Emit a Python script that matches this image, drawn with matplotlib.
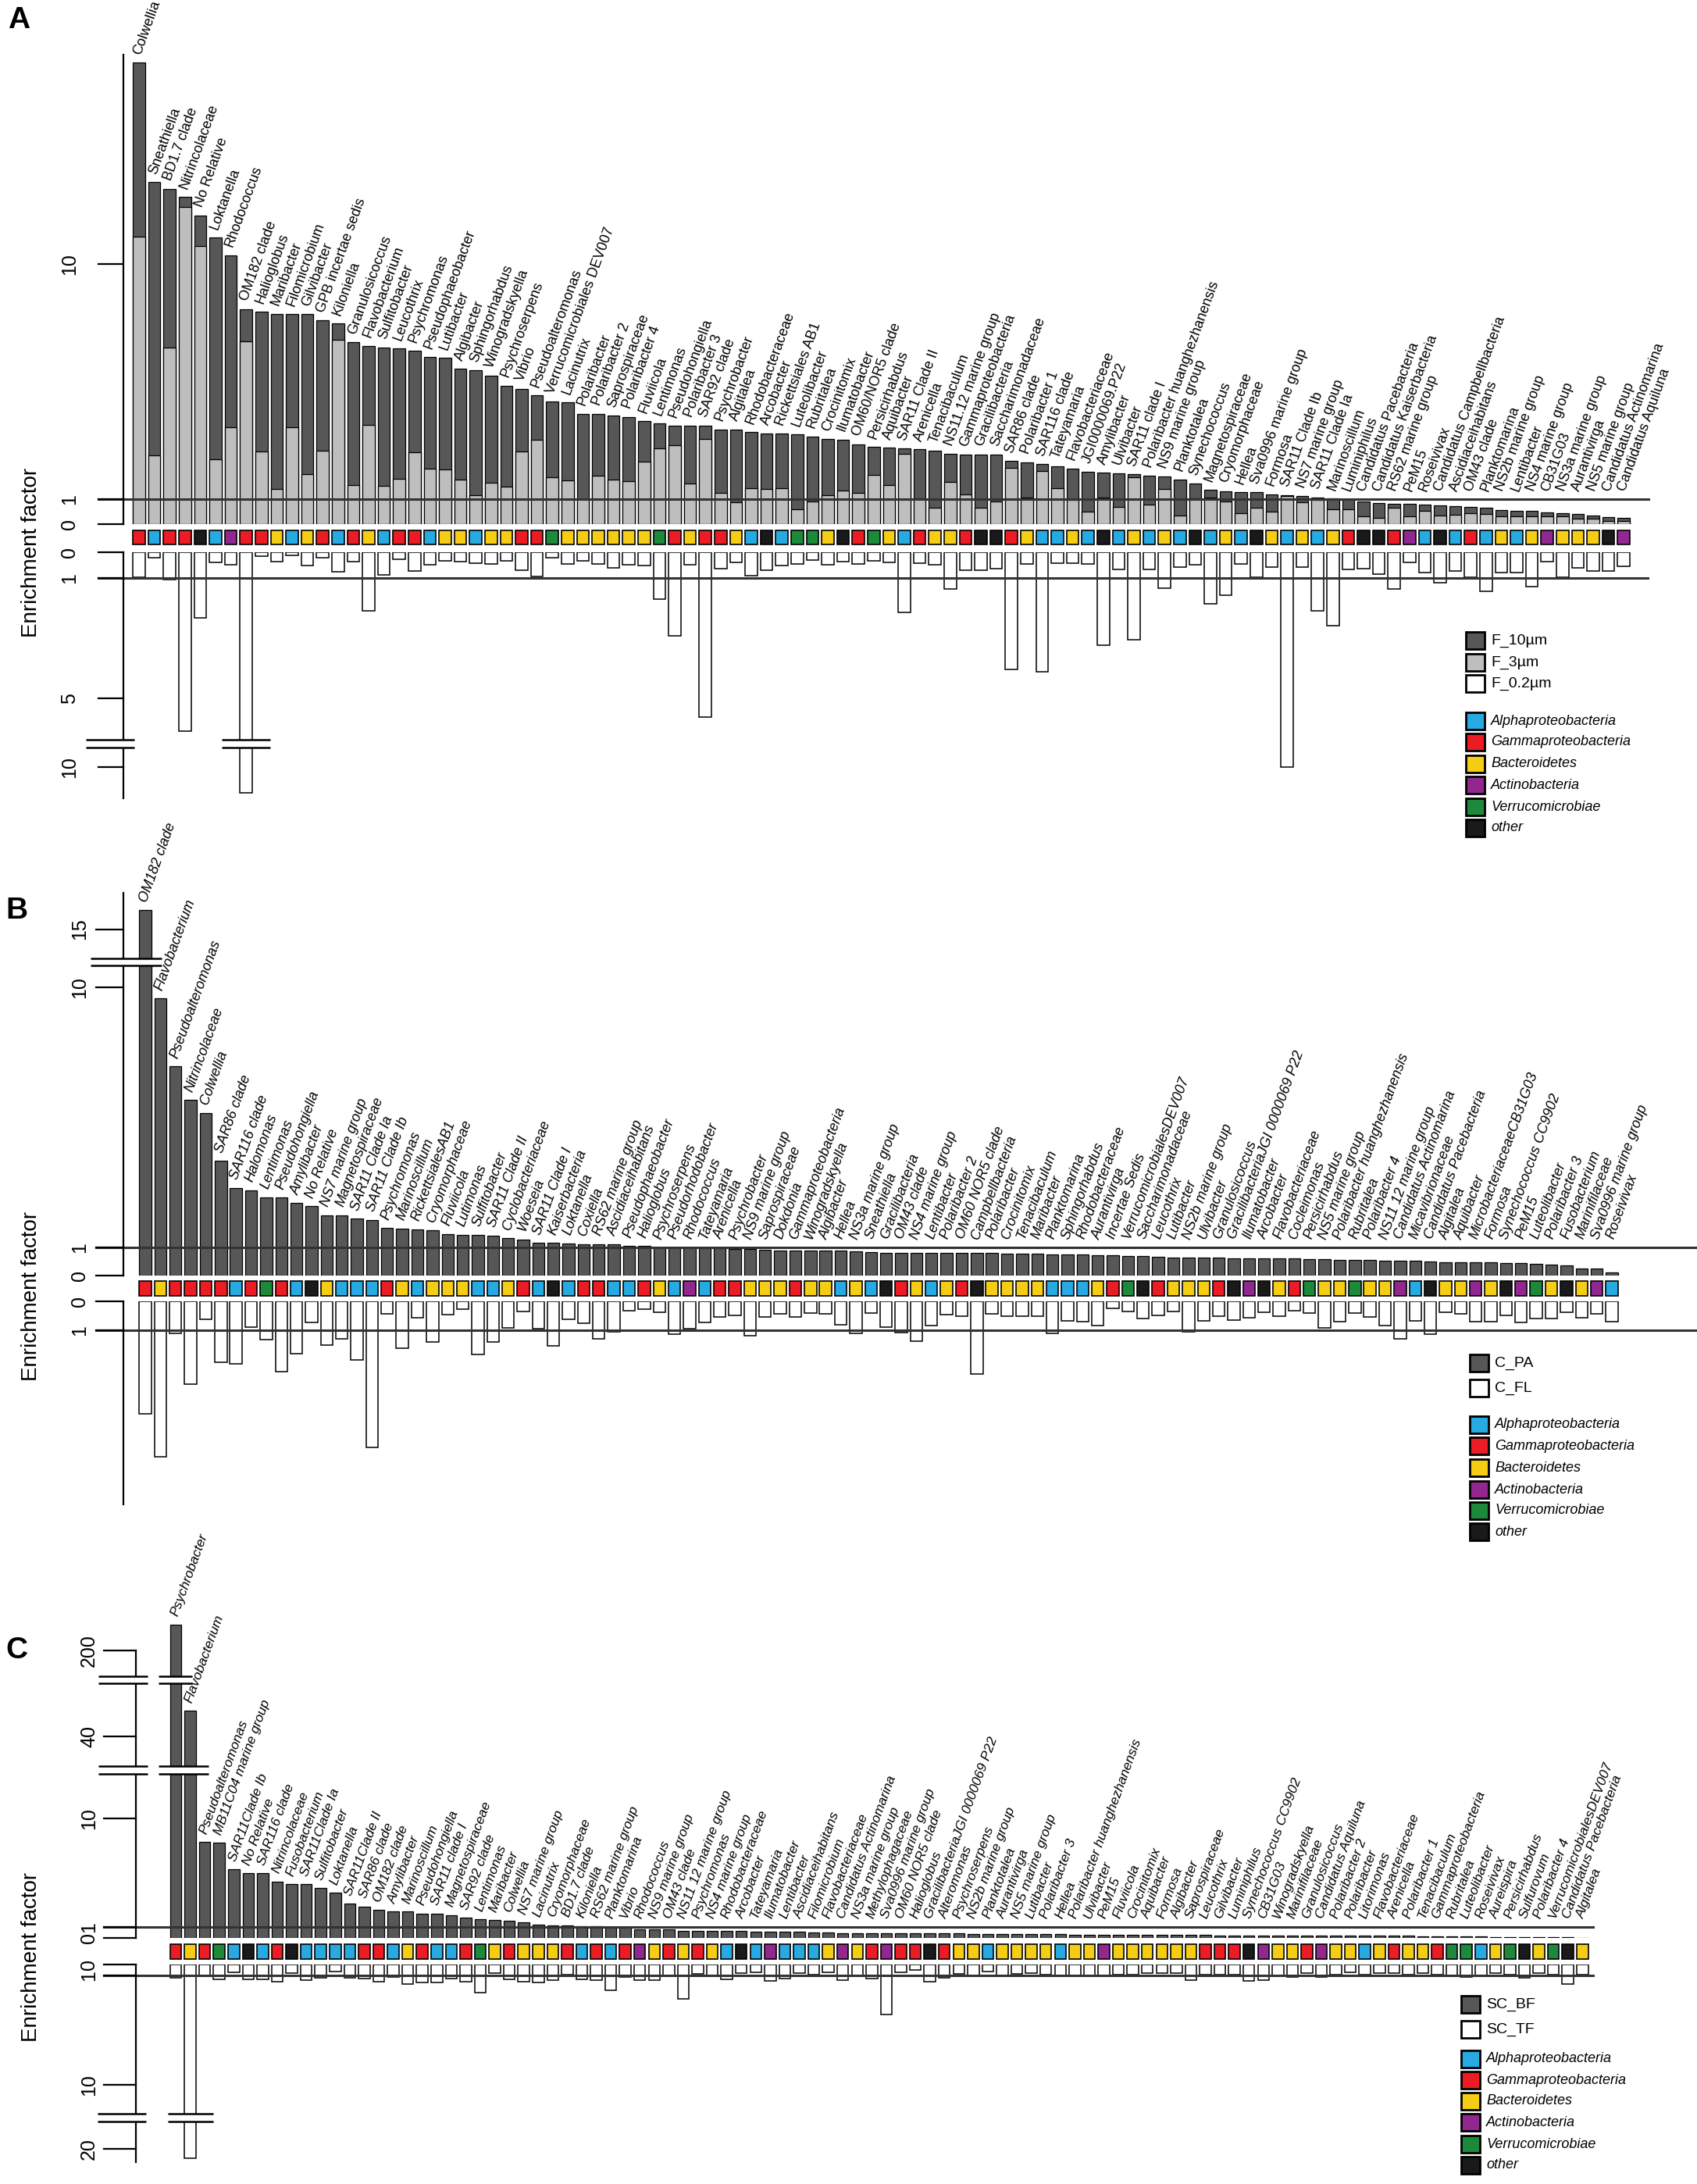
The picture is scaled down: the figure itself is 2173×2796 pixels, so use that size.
import numpy as np
import matplotlib
matplotlib.use("Agg")
import matplotlib.pyplot as plt
from matplotlib.patches import Rectangle

# ---------------------------------------------------------------- DATA
names_A = ["Colwellia", "Sneathiella", "BD1.7 clade", "Nitrincolaceae", "No Relative", "Loktanella", "Rhodococcus", "OM182 clade", "Halioglobus", "Maribacter",
           "Filomicrobium", "Gilvibacter", "GPB incertae sedis", "Kiloniella", "Granulosicoccus", "Flavobacterium", "Sulfitobacter", "Leucothrix", "Psychromonas", "Pseudophaeobacter",
           "Lutibacter", "Algibacter", "Sphingorhabdus", "Winogradskyella", "Psychroserpens", "Vibrio", "Pseudoalteromonas", "Verrucomicrobiales DEV007", "Lacinutrix", "Polaribacter",
           "Polaribacter 2", "Saprospiraceae", "Polaribacter 4", "Fluviicola", "Lentimonas", "Pseudohongiella", "Polaribacter 3", "SAR92 clade", "Psychrobacter", "Algitalea",
           "Rhodobacteraceae", "Arcobacter", "Rickettsiales AB1", "Luteolibacter", "Rubritalea", "Crocinitomix", "Ilumatobacter", "OM60/NOR5 clade", "Persicirhabdus", "Aquibacter",
           "SAR11 Clade II", "Arenicella", "Tenacibaculum", "NS11.12 marine group", "Gammaproteobacteria", "Gracilibacteria", "Saccharimonadaceae", "SAR86 clade", "Polaribacter 1", "SAR116 clade",
           "Tateyamaria", "Flavobacteriaceae", "JGI0000069.P22", "Amylibacter", "Ulvibacter", "SAR11 clade I", "Polaribacter huanghezhanensis", "NS9 marine group", "Planktotalea", "Synechococcus",
           "Magnetospiraceae", "Cryomorphaceae", "Hellea", "Sva0996 marine group", "Formosa", "SAR11 Clade Ib", "NS7 marine group", "SAR11 Clade Ia", "Marinoscillum", "Luminiphilus",
           "Candidatus Pacebacteria", "Candidatus Kaiserbacteria", "RS62 marine group", "PeM15", "Roseivivax", "Candidatus Campbellbacteria", "Ascidiaceihabitans", "OM43 clade", "Planktomarina", "NS2b marine group",
           "Lentibacter", "NS4 marine group", "CB31G03", "NS3a marine group", "Aurantivirga", "NS5 marine group", "Candidatus Actinomarina", "Candidatus Aquiluna"]
codes_A = list("gaggoacggb" "abgagbagga" "bbabbggvbb" "bbbbvgbggb" "aoavvbogvb"
               "agbbgoogba" "abaoababao" "abaobababg" "oogcaoagab" "abcbbboc")
F_10um = [17.69, 13.12, 12.87, 12.55, 11.85, 11.01, 10.33, 8.27, 8.16, 8.09,
          8.08, 8.07, 7.84, 7.72, 7.01, 6.87, 6.81, 6.76, 6.68, 6.45,
          6.40, 5.99, 5.92, 5.72, 5.35, 5.21, 4.97, 4.73, 4.71, 4.27,
          4.27, 4.19, 4.15, 3.98, 3.90, 3.82, 3.82, 3.82, 3.68, 3.68,
          3.57, 3.52, 3.51, 3.48, 3.40, 3.30, 3.28, 3.11, 3.00, 2.98,
          2.94, 2.92, 2.86, 2.74, 2.72, 2.72, 2.72, 2.47, 2.42, 2.35,
          2.25, 2.18, 2.06, 2.03, 2.00, 1.96, 1.90, 1.88, 1.76, 1.61,
          1.36, 1.32, 1.27, 1.27, 1.20, 1.17, 1.13, 1.08, 1.03, 1.00,
          0.91, 0.86, 0.83, 0.81, 0.78, 0.76, 0.71, 0.68, 0.66, 0.56,
          0.55, 0.55, 0.46, 0.45, 0.40, 0.36, 0.28, 0.26]
F_3um = [11.05, 2.68, 6.81, 12.17, 10.68, 2.52, 3.75, 7.05, 2.83, 1.39,
         3.77, 1.96, 2.85, 7.09, 1.56, 3.83, 1.53, 1.79, 2.79, 2.16,
         2.15, 1.75, 1.16, 1.64, 1.49, 2.83, 3.27, 1.85, 1.72, 1.00,
         1.91, 1.77, 1.69, 2.44, 2.94, 3.08, 1.61, 3.30, 1.26, 0.87,
         1.42, 1.39, 1.44, 0.60, 0.92, 1.15, 1.34, 1.25, 1.93, 1.54,
         2.74, 1.05, 0.67, 1.66, 1.18, 0.65, 0.93, 2.20, 1.08, 2.08,
         1.42, 0.98, 0.50, 1.07, 0.70, 1.83, 0.80, 1.39, 0.35, 1.03,
         1.08, 0.91, 0.43, 0.65, 0.51, 1.13, 0.88, 0.98, 0.60, 0.60,
         0.30, 0.26, 0.65, 0.33, 0.53, 0.36, 0.38, 0.43, 0.40, 0.33,
         0.33, 0.33, 0.31, 0.31, 0.23, 0.23, 0.13, 0.13]
F_02um = [0.97, 0.22, 1.04, 6.08, 2.32, 0.40, 0.48, 10.86, 0.15, 0.35,
          0.12, 0.50, 0.20, 0.75, 0.35, 2.10, 0.87, 0.27, 0.73, 0.47,
          0.32, 0.35, 0.42, 0.45, 0.33, 0.70, 0.93, 0.20, 0.46, 0.32,
          0.45, 0.60, 0.48, 0.52, 1.71, 2.92, 0.48, 5.62, 0.64, 0.38,
          0.92, 0.70, 0.50, 0.45, 0.30, 0.48, 0.37, 0.45, 0.32, 0.38,
          2.14, 0.43, 0.47, 1.37, 0.70, 0.70, 0.65, 4.05, 0.45, 4.13,
          0.42, 0.43, 0.45, 3.23, 0.67, 3.06, 0.68, 1.33, 0.58, 0.48,
          1.86, 1.58, 0.45, 0.97, 0.58, 10.0, 0.58, 2.10, 2.58, 0.68,
          0.65, 0.85, 1.37, 0.40, 0.80, 1.16, 0.72, 0.96, 1.43, 0.78,
          0.80, 1.28, 0.35, 0.97, 0.62, 0.73, 0.73, 0.55]

names_B = ["OM182 clade", "Flavobacterium", "Pseudoalteromonas", "Nitrincolaceae", "Colwellia", "SAR86 clade", "SAR116 clade", "Halomonas", "Lentimonas", "Pseudohongiella",
           "Amylibacter", "No Relative", "NS7 marine group", "Magnetospiraceae", "SAR11 Clade Ia", "SAR11 Clade Ib", "Psychromonas", "Marinoscillum", "RickettsialesAB1", "Cryomorphaceae",
           "Fluviicola", "Lutimonas", "Sulfitobacter", "SAR11 Clade II", "Cyclobacteriaceae", "Woeseia", "SAR11 Clade I", "Kaiserbacteria", "Loktanella", "Coxiella",
           "RS62 marine group", "Ascidiaceihabitans", "Pseudophaeobacter", "Halioglobus", "Psychroserpens", "Pseudorhodobacter", "Rhodococcus", "Tateyamaria", "Arenicella", "Psychrobacter",
           "NS9 marine group", "Saprospiraceae", "Dokdonia", "Gammaproteobacteria", "Winogradskyella", "Algibacter", "Hellea", "NS3a marine group", "Sneathiella", "Gracilibacteria",
           "OM43 clade", "NS4 marine group", "Lentibacter", "Polaribacter 2", "OM60 NOR5 clade", "Campbellbacteria", "Polaribacter", "Crocinitomix", "Tenacibaculum", "Maribacter",
           "Planktomarina", "Sphingorhabdus", "Rhodobacteraceae", "Aurantivirga", "Incertae Sedis", "VerrucomicrobialesDEV007", "Saccharimonadaceae", "Leucothrix", "Lutibacter", "NS2b marine group",
           "Ulvibacter", "Granulosicoccus", "GracilibacteriaJGI 0000069 P22", "Ilumatobacter", "Arcobacter", "Flavobacteriaceae", "Cocleimonas", "Persicirhabdus", "NS5 marine group", "Polaribacter huanghezhanensis",
           "Rubritalea", "Polaribacter 4", "NS11 12 marine group", "Candidatus Actinomarina", "Micavibrionaceae", "Candidatus Pacebacteria", "Algitalea", "Aquibacter", "MicrobacteriaceaeCB31G03", "Formosa",
           "Synechococcus CC9902", "PeM15", "Luteolibacter", "Polaribacter 3", "Fusobacterium", "Marinifilaceae", "Sva0996 marine group", "Roseivivax"]
codes_B = list("gbggggagvg" "aobaaagbab" "bbaabgaoag" "gaagbacagg" "bbbgbbabao"
               "gbabgobbbb" "aaabgvogbb" "bgocobgvbb" "vbbcaobbcb" "ocvbobca")
C_PA = [15.66, 9.61, 7.26, 6.09, 5.64, 3.98, 3.05, 2.97, 2.73, 2.71,
        2.53, 2.41, 2.11, 2.11, 1.99, 1.94, 1.66, 1.64, 1.62, 1.59,
        1.46, 1.43, 1.43, 1.40, 1.31, 1.27, 1.15, 1.15, 1.13, 1.11,
        1.11, 1.11, 1.05, 1.03, 1.00, 1.00, 0.98, 0.95, 0.95, 0.93,
        0.93, 0.91, 0.89, 0.87, 0.87, 0.87, 0.87, 0.85, 0.83, 0.81,
        0.80, 0.80, 0.80, 0.80, 0.80, 0.79, 0.79, 0.78, 0.78, 0.76,
        0.75, 0.74, 0.74, 0.71, 0.71, 0.70, 0.70, 0.65, 0.64, 0.63,
        0.63, 0.62, 0.61, 0.61, 0.61, 0.60, 0.60, 0.58, 0.57, 0.56,
        0.55, 0.54, 0.53, 0.52, 0.51, 0.50, 0.48, 0.47, 0.47, 0.46,
        0.43, 0.43, 0.41, 0.39, 0.36, 0.26, 0.24, 0.12]
C_FL = [3.93, 5.45, 1.11, 2.90, 0.63, 2.14, 2.18, 0.90, 1.35, 2.45,
        1.84, 0.73, 1.54, 1.31, 2.05, 5.11, 0.44, 1.64, 0.58, 1.42,
        0.47, 0.26, 1.87, 1.41, 0.92, 0.35, 0.95, 1.55, 0.62, 0.76,
        1.31, 1.07, 0.34, 0.26, 0.38, 1.14, 0.97, 0.73, 0.56, 0.49,
        1.20, 0.54, 0.45, 0.54, 0.42, 0.43, 0.81, 1.11, 0.40, 0.89,
        1.09, 1.38, 0.84, 0.47, 0.52, 2.55, 0.43, 0.52, 0.52, 0.52,
        1.11, 0.68, 0.72, 0.85, 0.24, 0.35, 0.59, 0.48, 0.35, 1.07,
        0.68, 0.53, 0.65, 0.58, 0.39, 0.52, 0.33, 0.42, 0.93, 0.70,
        0.41, 0.54, 0.86, 1.30, 0.68, 1.14, 0.39, 0.44, 0.70, 0.70,
        0.48, 0.75, 0.59, 0.61, 0.38, 0.58, 0.44, 0.70]

names_C = ["Psychrobacter", "Flavobacterium", "Pseudoalteromonas", "MB11C04 marine group", "SAR11Clade Ib", "No Relative", "SAR116 clade", "Nitrincolaceae", "Fusobacterium", "SAR11Clade Ia",
           "Sulfitobacter", "Loktanella", "SAR11Clade II", "SAR86 clade", "OM182 clade", "Amylibacter", "Marinoscillum", "Pseudohongiella", "SAR11 clade I", "Magnetospiraceae",
           "SAR92 clade", "Lentimonas", "Maribacter", "Colwellia", "NS7 marine group", "Lacinutrix", "Cryomorphaceae", "BD1.7 clade", "Kiloniella", "RS62 marine group",
           "Planktomarina", "Vibrio", "Rhodococcus", "NS9 marine group", "OM43 clade", "NS11 12 marine group", "Psychromonas", "NS4 marine group", "Rhodobacteraceae", "Arcobacter",
           "Tateyamaria", "Ilumatobacter", "Lentibacter", "Ascidiaceihabitans", "Filomicrobium", "Flavobacteriaceae", "Candidatus Actinomarina", "NS3a marine group", "Methylophagaceae", "Sva0996 marine group",
           "OM60 NOR5 clade", "Halioglobus", "GracilibacteriaJGI 0000069 P22", "Alteromonas", "Psychroserpens", "NS2b marine group", "Planktotalea", "Aurantivirga", "NS5 marine group", "Lutibacter",
           "Polaribacter 3", "Hellea", "Polaribacter huanghezhanensis", "Ulvibacter", "PeM15", "Fluviicola", "Crocinitomix", "Aquibacter", "Formosa", "Algibacter",
           "Saprospiraceae", "Leucothrix", "Gilvibacter", "Luminiphilus", "Synechococcus CC9902", "CB31G03", "Winogradskyella", "Marinifilaceae", "Granulosicoccus", "Candidatus Aquiluna",
           "Polaribacter 2", "Polaribacter", "Litorimonas", "Flavobacteriaceae", "Arenicella", "Polaribacter 1", "Tenacibaculum", "Gammaproteobacteria", "Rubritalea", "Luteolibacter",
           "Roseivivax", "Aureispira", "Persicirhabdus", "Sulfurovum", "Polaribacter 4", "VerrucomicrobialesDEV007", "Candidatus Pacebacteria", "Algitalea"]
codes_C = list("gbgvaoagoa" "aaaggabgaa" "gvbgbbbgag" "agcbgbgbao" "acaaabcbgc"
               "ggogbbabbb" "babbcbbbbb" "bgggocbbgc" "bbabgbbgvv" "abvobvob")
SC_BF = [202.2, 42.1, 8.03, 7.98, 5.78, 5.45, 5.45, 4.76, 4.53, 4.53,
         4.20, 3.83, 2.93, 2.69, 2.39, 2.28, 2.25, 2.11, 2.09, 1.97,
         1.74, 1.63, 1.56, 1.51, 1.35, 1.16, 1.14, 1.12, 1.07, 1.05,
         0.98, 0.95, 0.80, 0.75, 0.75, 0.65, 0.63, 0.63, 0.60, 0.60,
         0.58, 0.55, 0.55, 0.53, 0.48, 0.48, 0.45, 0.45, 0.45, 0.43,
         0.43, 0.41, 0.41, 0.39, 0.39, 0.36, 0.34, 0.34, 0.34, 0.34,
         0.34, 0.32, 0.30, 0.30, 0.27, 0.27, 0.27, 0.27, 0.25, 0.25,
         0.25, 0.25, 0.23, 0.23, 0.23, 0.23, 0.23, 0.21, 0.21, 0.21,
         0.21, 0.21, 0.21, 0.18, 0.18, 0.18, 0.16, 0.16, 0.16, 0.14,
         0.12, 0.09, 0.09, 0.09, 0.09, 0.09, 0.05, 0.03]
SC_TF = [1.20, 20.77, 1.04, 1.30, 0.74, 1.34, 1.34, 1.50, 0.81, 1.36,
         1.21, 0.62, 1.21, 1.26, 1.50, 1.15, 1.70, 1.57, 1.55, 1.26,
         1.51, 2.43, 0.81, 1.30, 1.51, 1.55, 1.40, 0.90, 1.34, 1.40,
         2.19, 1.13, 1.40, 1.36, 1.09, 2.94, 0.86, 1.09, 1.30, 0.81,
         0.74, 1.45, 1.26, 0.81, 0.90, 0.69, 1.40, 1.04, 1.26, 4.21,
         0.74, 0.50, 1.51, 1.19, 0.86, 1.04, 0.67, 1.04, 0.86, 0.81,
         0.90, 0.98, 0.98, 0.98, 1.04, 0.90, 0.90, 0.81, 0.76, 0.81,
         1.40, 0.90, 0.90, 0.90, 1.45, 1.36, 0.98, 1.13, 0.81, 1.13,
         0.90, 0.74, 0.90, 0.81, 0.81, 0.90, 0.81, 0.90, 0.98, 1.13,
         1.04, 0.81, 0.90, 1.19, 0.81, 0.90, 1.68, 0.90]

taxa_labels = ["Alphaproteobacteria", "Gammaproteobacteria", "Bacteroidetes",
               "Actinobacteria", "Verrucomicrobiae", "other"]
taxa_codes = ["a", "g", "b", "c", "v", "o"]
tax_colors = {"a": "#27AAE1", "g": "#EC1C24", "b": "#F4CD14",
              "c": "#92278F", "v": "#1D8A3B", "o": "#1A1A1A"}
DARK, LIGHT = "#575757", "#BEBEBE"

# ---------------------------------------------------------------- LAYOUT
W, H, DPI = 2173, 2796, 100
plt.rcParams["font.family"] = ["Liberation Sans", "DejaVu Sans"]
fig = plt.figure(figsize=(W / DPI, H / DPI), dpi=DPI)
fig.patch.set_facecolor("white")


def make_scale(d, p):
    d = np.asarray(d, float)
    p = np.asarray(p, float)
    s0 = (p[1] - p[0]) / (d[1] - d[0])
    s1 = (p[-1] - p[-2]) / (d[-1] - d[-2])

    def fwd(v):
        v = np.asarray(v, float)
        out = np.interp(v, d, p)
        out = np.where(v < d[0], p[0] + (v - d[0]) * s0, out)
        return np.where(v > d[-1], p[-1] + (v - d[-1]) * s1, out)

    def inv(q):
        q = np.asarray(q, float)
        out = np.interp(q, p, d)
        out = np.where(q < p[0], d[0] + (q - p[0]) / s0, out)
        return np.where(q > p[-1], d[-1] + (q - p[-1]) / s1, out)
    return fwd, inv


def band_axes(top, bottom):
    ax = fig.add_axes([0, 1 - bottom / H, 1, (bottom - top) / H])
    ax.set_xlim(0, W)
    ax.axis("off")
    return ax


def draw_break(ax, x0, x1, va, vb):
    ax.add_patch(Rectangle((x0, va), x1 - x0, vb - va, facecolor="white",
                           edgecolor="none", zorder=6, clip_on=False))
    for v in (va, vb):
        ax.plot([x0, x1], [v, v], color="black", lw=1.8, zorder=7, clip_on=False,
                solid_capstyle="butt")


def draw_panel(cfg, names, codes, upper, lower, italic):
    n = len(names)
    xs = cfg["x0"] + cfg["dx"] * np.arange(n)
    w = cfg["w"]
    ax_x, t0, lx = cfg["axis_x"], cfg["tick_x0"], cfg["lab_x"]

    # upper part
    fu, iu = make_scale(cfg["up_d"], cfg["up_p"])
    vtop = cfg["up_d"][-1]
    hu = float(fu(vtop))
    axu = band_axes(cfg["up_zero"] - hu, cfg["up_zero"])
    axu.set_yscale("function", functions=(fu, iu))
    axu.set_ylim(0, vtop)
    for vals, col in upper:
        axu.bar(xs, vals, width=w, bottom=0, color=col, edgecolor="black",
                linewidth=0.9, zorder=2)
    axu.plot([t0, cfg["line_end"]], [1, 1], color="#333333", lw=2.2, zorder=4,
             clip_on=False)
    for a, b in cfg["up_axis"]:
        axu.plot([ax_x, ax_x], [a, b], color="black", lw=1.6, clip_on=False, zorder=4)
    for t in cfg["up_ticks"]:
        axu.plot([t0, ax_x], [t, t], color="black", lw=1.6, clip_on=False, zorder=4)
        axu.text(lx, t, f"{t:g}", rotation=90, ha="center", va="center",
                 fontsize=18, clip_on=False)
    topv = np.max(np.array([v for v, _ in upper], float), axis=0)
    for x, nm, v in zip(xs, names, topv):
        y = float(iu(fu(max(v, 1.0)) + 11))
        axu.text(x - 2, y, nm, rotation=70, rotation_mode="anchor", ha="left",
                 va="center", fontsize=cfg["fs"], clip_on=False,
                 style="italic" if italic else "normal")
    for (x0, x1, va, vb) in cfg.get("up_breaks", []):
        draw_break(axu, x0, x1, va, vb)

    # coloured taxon squares
    s_top, s_bot = cfg["sq"]
    axs = band_axes(s_top - 1, s_bot + 1)
    axs.set_ylim(-0.05, 1.05)
    axs.bar(xs, 1, width=w, bottom=0, color=[tax_colors[c] for c in codes],
            edgecolor="black", linewidth=1.2)

    # lower part
    fl, il = make_scale(cfg["lo_d"], cfg["lo_p"])
    vbot = cfg["lo_d"][-1]
    hl = float(fl(vbot))
    axl = band_axes(cfg["lo_zero"], cfg["lo_zero"] + hl)
    axl.set_yscale("function", functions=(fl, il))
    axl.set_ylim(vbot, 0)
    axl.bar(xs, lower, width=w, bottom=0, color="white", edgecolor="black",
            linewidth=1.1, zorder=2)
    axl.plot([t0, cfg["line_end_lo"]], [1, 1], color="#333333", lw=2.2, zorder=4,
             clip_on=False)
    for a, b in cfg["lo_axis"]:
        axl.plot([ax_x, ax_x], [a, b], color="black", lw=1.6, clip_on=False, zorder=4)
    for t in cfg["lo_ticks"]:
        axl.plot([t0, ax_x], [t, t], color="black", lw=1.6, clip_on=False, zorder=4)
        axl.text(lx, t, f"{t:g}", rotation=90, ha="center", va="center",
                 fontsize=18, clip_on=False)
    for (x0, x1, va, vb) in cfg.get("lo_breaks", []):
        draw_break(axl, x0, x1, va, vb)
    return xs


cfgA = dict(x0=178, dx=19.6, w=15.5, axis_x=158, tick_x0=126, lab_x=89, fs=13,
            line_end=2111, line_end_lo=2110,
            up_zero=671, up_d=[0, 1, 18.3], up_p=[0, 31.7, 31.7 + 17.3 * 33.5],
            up_axis=[(0, 18.0)], up_ticks=[0, 1, 10],
            sq=(679, 697),
            lo_zero=707, lo_d=[0, 1, 6.38, 9.35, 11.2], lo_p=[0, 33, 240.1, 250.1, 321.3],
            lo_axis=[(0, 6.38), (9.35, 11.04)], lo_ticks=[0, 1, 5, 10])
cfgA["lo_breaks"] = [(110, 172, 6.38, 9.35),
                     (cfgA["x0"] + 7 * cfgA["dx"] - 31, cfgA["x0"] + 7 * cfgA["dx"] + 31, 6.38, 9.35)]

cfgB = dict(x0=186, dx=19.36, w=15.4, axis_x=158, tick_x0=123, lab_x=102, fs=13,
            line_end=2173, line_end_lo=2173,
            up_zero=1633, up_d=[0, 1, 10.74, 13.99, 16.3], up_p=[0, 36.4, 396.8, 406.1, 491.6],
            up_axis=[(0, 10.74), (13.99, 16.26)], up_ticks=[0, 1, 10, 15],
            up_breaks=[(116, 207, 10.74, 13.99)],
            sq=(1640, 1659),
            lo_zero=1666, lo_d=[0, 7.2], lo_p=[0, 263.5],
            lo_axis=[(0, 7.1)], lo_ticks=[0, 1])

cfgC = dict(x0=225, dx=18.57, w=14.5, axis_x=174, tick_x0=133, lab_x=114, fs=12.5,
            line_end=2040, line_end_lo=2040,
            up_zero=2481, up_d=[0, 1, 13.7, 37.5, 44.4, 197.9, 205],
            up_p=[0, 14.3, 209.9, 219.9, 326.2, 335.2, 444.5],
            up_axis=[(0, 13.7), (37.5, 44.4), (197.9, 200)], up_ticks=[0, 1, 10, 40, 200],
            up_breaks=[(126, 189, 13.7, 37.5), (126, 189, 44.4, 197.9),
                       (203, 267, 13.7, 37.5), (203, 246, 44.4, 197.9)],
            sq=(2489, 2508),
            lo_zero=2515, lo_d=[0, 1, 12.4, 17.75, 21.5], lo_p=[0, 14, 191.3, 201.3, 259.6],
            lo_axis=[(0, 12.4), (17.75, 21.07)], lo_ticks=[0, 1, 10, 20],
            lo_breaks=[(125, 187, 12.4, 17.75), (215, 273, 12.4, 17.75)])

draw_panel(cfgA, names_A, codes_A, [(F_10um, DARK), (F_3um, LIGHT)], F_02um, False)
draw_panel(cfgB, names_B, codes_B, [(C_PA, DARK)], C_FL, True)
draw_panel(cfgC, names_C, codes_C, [(SC_BF, DARK)], SC_TF, True)

# ---------------------------------------------------------------- overlay (letters, labels, legends)
ov = fig.add_axes([0, 0, 1, 1])
ov.set_xlim(0, W)
ov.set_ylim(H, 0)
ov.axis("off")

for letter, (x, y) in zip("ABC", [(24, 26), (21, 1166), (21, 2113)]):
    ov.text(x, y, letter, fontsize=28, fontweight="bold", ha="center", va="center")
for y in (707, 1659, 2505):
    ov.text(40, y, "Enrichment factor", rotation=90, fontsize=20, ha="center", va="center")

NARROW = ["Liberation Sans Narrow", "Liberation Sans"]


def legend(x, series, ys_series, ys_taxa):
    for (lab, fc), yc in zip(series, ys_series):
        ov.add_patch(Rectangle((x, yc - 11), 24, 22, facecolor=fc, edgecolor="black", lw=2))
        ov.text(x + 32, yc, lab, ha="left", va="center", fontsize=14, family=NARROW,
                fontstretch="condensed")
    for lab, code, yc in zip(taxa_labels, taxa_codes, ys_taxa):
        ov.add_patch(Rectangle((x, yc - 11), 24, 22, facecolor=tax_colors[code],
                               edgecolor="black", lw=2))
        ov.text(x + 32, yc, lab, ha="left", va="center", fontsize=13, style="italic",
                family=NARROW, fontstretch="condensed")


legend(1877, [("F_10µm", DARK), ("F_3µm", LIGHT), ("F_0.2µm", "white")],
       [820, 848, 875], [923, 950, 978, 1005, 1033, 1060])
legend(1882, [("C_PA", DARK), ("C_FL", "white")],
       [1745, 1777], [1824, 1851, 1879, 1907, 1934, 1961])
legend(1871, [("SC_BF", DARK), ("SC_TF", "white")],
       [2566, 2598], [2636, 2663, 2690, 2717, 2745, 2772])

fig.savefig("out.png", dpi=DPI, facecolor="white")
